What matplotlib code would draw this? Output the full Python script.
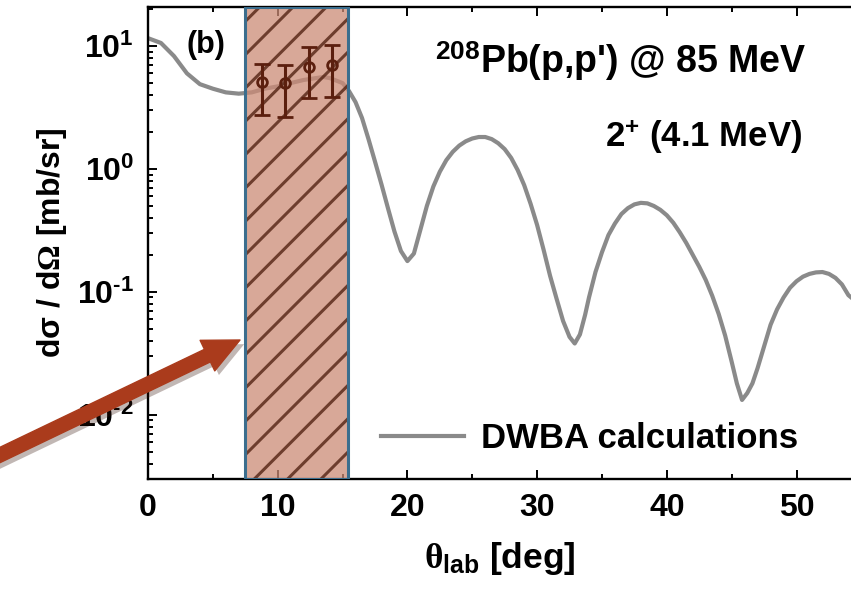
import numpy as np
import matplotlib.pyplot as plt
import matplotlib.patheffects as pe
from matplotlib.ticker import FuncFormatter

plt.rcParams['font.family'] = ['Liberation Sans', 'DejaVu Sans']
plt.rcParams['font.weight'] = 'bold'
plt.rcParams['axes.labelweight'] = 'bold'
plt.rcParams['mathtext.fontset'] = 'custom'
plt.rcParams['mathtext.rm'] = 'Liberation Sans:bold'
plt.rcParams['mathtext.bf'] = 'Liberation Sans:bold'
plt.rcParams['mathtext.it'] = 'Liberation Serif'
plt.rcParams['mathtext.sf'] = 'Liberation Serif'
plt.rcParams['hatch.linewidth'] = 2.2

# DWBA curve
theta = [0, 1, 2, 3, 4, 5, 6, 7, 8, 9, 10, 11, 12, 13, 13.5, 14, 15, 15.5, 16, 16.5,
         17, 17.5, 18, 18.5, 19, 19.5, 20, 20.5, 21, 21.5, 22, 22.5, 23, 23.5, 24, 24.5,
         25, 25.5, 26, 26.5, 27, 27.5, 28, 28.5, 29, 29.5, 30, 30.5, 31, 31.5, 32, 32.5,
         32.9, 33.3, 33.7, 34, 34.5, 35, 35.5, 36, 36.5, 37, 37.5, 38, 38.5, 39, 39.5, 40,
         40.5, 41, 41.5, 42, 42.5, 43, 43.5, 44, 44.5, 45, 45.4, 45.8, 46.2, 46.6, 47,
         47.5, 48, 48.5, 49, 49.5, 50, 50.5, 51, 51.5, 52, 52.5, 53, 53.5, 54, 54.5]
dwba = [11.6, 10.6, 8.3, 6.0, 4.9, 4.5, 4.2, 4.1, 4.2, 4.5, 4.7, 5.0, 5.3, 5.5, 5.6, 5.5,
        5.0, 4.3, 3.5, 2.6, 1.75, 1.15, 0.75, 0.48, 0.31, 0.215, 0.178, 0.205, 0.32, 0.50,
        0.72, 0.95, 1.18, 1.38, 1.55, 1.68, 1.77, 1.82, 1.82, 1.75, 1.62, 1.45, 1.23, 0.98,
        0.74, 0.52, 0.35, 0.22, 0.135, 0.088, 0.058, 0.043, 0.038, 0.045, 0.065, 0.09,
        0.145, 0.21, 0.29, 0.36, 0.43, 0.48, 0.515, 0.53, 0.525, 0.50, 0.465, 0.42, 0.365,
        0.305, 0.25, 0.20, 0.16, 0.125, 0.093, 0.066, 0.044, 0.027, 0.018, 0.0132, 0.015,
        0.018, 0.024, 0.036, 0.054, 0.072, 0.09, 0.108, 0.122, 0.133, 0.140, 0.144, 0.145,
        0.14, 0.13, 0.115, 0.094, 0.085]

# measured points
theta_exp = [8.8, 10.6, 12.4, 14.2]
xs_exp = [5.1, 5.0, 6.8, 7.0]
xs_hi = [7.2, 7.0, 9.9, 10.2]
xs_lo = [2.74, 2.66, 3.75, 3.87]

band = (7.5, 15.4)

fig = plt.figure(figsize=(8.51, 5.93), dpi=100)
ax = fig.add_axes([148/851, 114/593, 703/851, 472/593])

ax.plot(theta, dwba, color='#8a8a8a', lw=3, label='DWBA calculations', zorder=2)

ax.axvspan(band[0], band[1], facecolor='#cc8b76', alpha=0.75, edgecolor='#4a1a0a',
           hatch='/', lw=0, zorder=3)
ax.axvspan(band[0], band[1], fill=False, edgecolor='#3b6e8e', lw=2.2, zorder=4)

yerr = [np.array(xs_exp) - np.array(xs_lo), np.array(xs_hi) - np.array(xs_exp)]
ax.errorbar(theta_exp, xs_exp, yerr=yerr, fmt='o', mfc='none', mec='#5b1f0e', ms=7,
            mew=2.0, ecolor='#5b1f0e', elinewidth=2.2, capsize=6, capthick=2.2, zorder=5)

ax.set_yscale('log')
ax.set_xlim(0, 54.2)
ax.set_ylim(0.003, 20.8)
ax.set_xticks([0, 10, 20, 30, 40, 50])
ax.set_xticks(np.arange(5, 55, 10), minor=True)


def pow10(v, pos):
    e = str(int(round(np.log10(v)))).replace('-', '\u2010')
    return r'$\mathdefault{10^{%s}}$' % e


ax.yaxis.set_major_formatter(FuncFormatter(pow10))

ax.spines['right'].set_visible(False)
for s in ['left', 'bottom', 'top']:
    ax.spines[s].set_linewidth(1.7)
ax.tick_params(which='both', direction='in', top=True, right=False, width=1.4,
               labelsize=23, pad=10)
ax.tick_params(which='major', length=6.2)
ax.tick_params(which='minor', length=3.4)

ax.set_xlabel(r'$\mathsf{\theta}_{\mathrm{lab}}$ [deg]', fontsize=25.5)
ax.xaxis.set_label_coords(0.5, -0.13)
ax.set_ylabel(r'd$\mathrm{\sigma}$ / d$\mathsf{\Omega}$ [mb/sr]', fontsize=23)
ax.yaxis.set_label_coords(-0.112, 0.5)

ax.text(0.0825, 0.919, '(b)', transform=ax.transAxes, fontsize=22, ha='center', va='center')
ax.text(0.937, 0.860, r"$^{\mathrm{208}}$Pb(p,p') @ 85 MeV", transform=ax.transAxes,
        fontsize=27, ha='right', va='baseline')
ax.text(0.930, 0.703, r'2$^{\mathrm{+}}$ (4.1 MeV)', transform=ax.transAxes,
        fontsize=25, ha='right', va='baseline')

ax.legend(loc='center left', bbox_to_anchor=(0.331, 0.085), frameon=False, fontsize=25,
          handlelength=2.4, handletextpad=0.5, borderpad=0, borderaxespad=0)

ax.annotate('', xy=(240/851, 253/593), xytext=(-0.02, 0.219),
            xycoords='figure fraction', textcoords='figure fraction',
            arrowprops=dict(arrowstyle='simple,head_length=1.3,head_width=1.22,tail_width=0.5',
                            color='#aa3b1c', shrinkA=0, shrinkB=0, mutation_scale=20,
                            path_effects=[pe.withSimplePatchShadow(offset=(3, -3), alpha=0.3)]),
            annotation_clip=False, zorder=10)

fig.savefig('out.png', dpi=100)
